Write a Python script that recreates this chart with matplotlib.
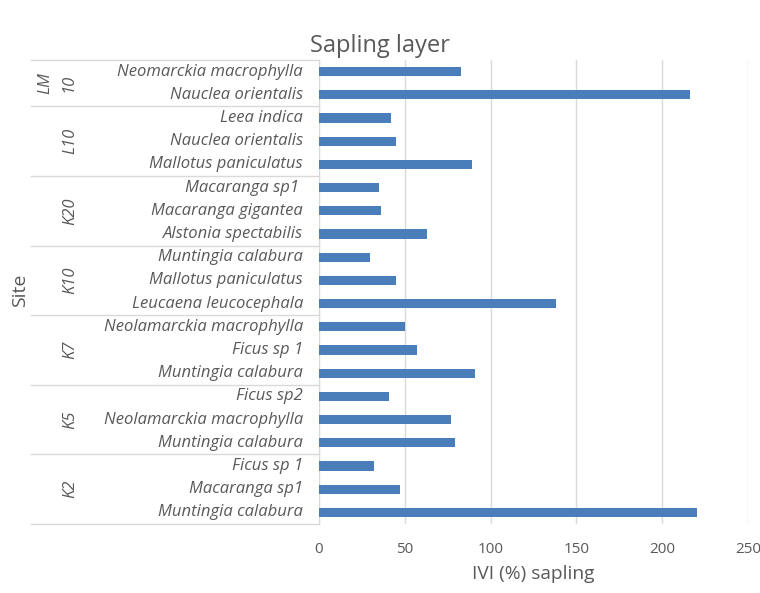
import matplotlib
matplotlib.use("Agg")
import matplotlib.pyplot as plt
from matplotlib.transforms import blended_transform_factory
from matplotlib.lines import Line2D

plt.rcParams['font.family'] = ['Open Sans', 'DejaVu Sans']

# sites from bottom to top, with their species and IVI values
sites = ["K2", "K5", "K7", "K10", "K20", "L10", "LM\n10"]
species = [
    ["Muntingia calabura", "Macaranga sp1", "Ficus sp 1"],
    ["Muntingia calabura", "Neolamarckia macrophylla", "Ficus sp2"],
    ["Muntingia calabura", "Ficus sp 1", "Neolamarckia macrophylla"],
    ["Leucaena leucocephala", "Mallotus paniculatus", "Muntingia calabura"],
    ["Alstonia spectabilis", "Macaranga gigantea", "Macaranga sp1 "],
    ["Mallotus paniculatus", "Nauclea orientalis", "Leea indica"],
    ["Nauclea orientalis", "Neomarckia macrophylla"],
]
ivi = [
    [220, 47, 32],
    [79, 77, 41],
    [91, 57, 50],
    [138, 45, 30],
    [63, 36, 35],
    [89, 45, 42],
    [216, 83],
]

grey = "#595959"
bar_color = "#4A7EBB"

fig = plt.figure(figsize=(7.6, 5.93), dpi=100)
ax = fig.add_axes([319 / 760, 1 - 524 / 593, 429 / 760, 464 / 593])

labels = [s for grp in species for s in grp]
values = [v for grp in ivi for v in grp]
ypos = list(range(len(values)))

ax.barh(ypos, values, height=0.4, color=bar_color, zorder=3)
ax.set_xlim(0, 250)
ax.set_ylim(-0.5, len(values) - 0.5)
ax.set_xticks([0, 50, 100, 150, 200, 250])
ax.tick_params(axis='x', length=0, labelsize=11, labelcolor=grey, pad=13)
ax.set_yticks([])
ax.grid(axis='x', color="#D9D9D9", linewidth=1, zorder=0)
for side in ['top', 'right', 'bottom']:
    ax.spines[side].set_visible(False)
ax.spines['left'].set_color("#D9D9D9")

ax.set_xlabel("IVI (%) sapling", fontsize=13.8, color=grey, labelpad=6)
fig.text(380 / 760, 1 - 46 / 593, "Sapling layer", ha='center', va='center',
         fontsize=17, color=grey)
fig.text(20 / 760, 1 - 290 / 593, "Site", rotation=90, ha='center', va='center',
         fontsize=14, color=grey)

# two-level category axis drawn by hand
trans = blended_transform_factory(fig.transFigure, ax.transData)
x_line0 = 31 / 760
x_line1 = 319 / 760
for y, name in zip(ypos, labels):
    ax.text(303 / 760, y, name, transform=trans, ha='right', va='center',
            fontsize=12, style='italic', color=grey, clip_on=False)

start = 0
edges = [-0.5]
for site, grp in zip(sites, species):
    end = start + len(grp)
    mid = (start + end - 1) / 2
    xs = 70 / 760 if "\n" not in site else 57 / 760
    ax.text(xs, mid, site, transform=trans, rotation=90, ha='center',
            va='center', fontsize=12, style='italic', color=grey,
            linespacing=1.55, multialignment='center', clip_on=False)
    edges.append(end - 0.5)
    start = end

for e in edges:
    ax.add_line(Line2D([x_line0, x_line1], [e, e], transform=trans,
                       color="#D9D9D9", linewidth=1, clip_on=False))

fig.savefig("out.png", dpi=100)
